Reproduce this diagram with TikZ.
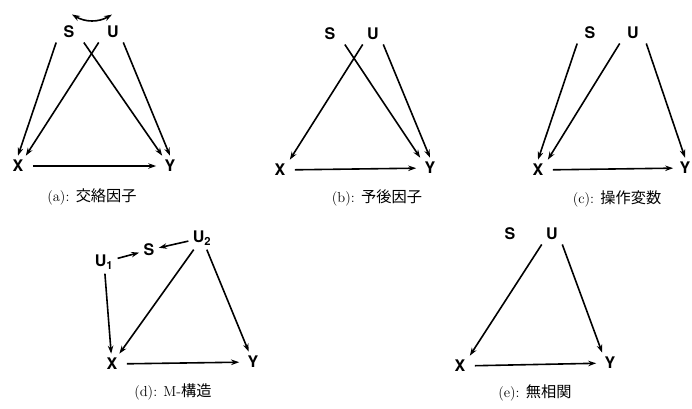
\documentclass[tikz,border=0pt]{standalone}
\usepackage{fontspec}
\setsansfont{TeX Gyre Heros}
\newfontfamily\cjk[Scale=1.05]{Noto Sans CJK JP}
\usetikzlibrary{arrows.meta}

\begin{document}
\begin{tikzpicture}[
    x=1pt, y=-1pt,
    >={Stealth[length=8pt, width=5.5pt]},
    var/.style={font=\fontsize{16}{16}\selectfont\sffamily\bfseries,
                inner sep=2pt, outer sep=2.5pt},
    arrow/.style={->, line width=1.6pt},
    caption/.style={font=\fontsize{14.5}{16}\selectfont},
]
    \useasboundingbox (0,0) rectangle (692,408);

    % (a)
    \node[var] (Sa) at (69,32) {S};
    \node[var] (Ua) at (113,32) {U};
    \node[var] (Xa) at (18,166) {X};
    \node[var] (Ya) at (170,166) {Y};
    \draw[arrow] ([xshift=-3pt]Sa.south west) -- (Xa.north);
    \draw[arrow] ([xshift=-4pt]Ua.south west) -- ([xshift=-2pt]Xa.north east);
    \draw[arrow] ([xshift=5pt]Sa.south east) -- ([xshift=2pt]Ya.north west);
    \draw[arrow] (Ua.south east) -- (Ya.north);
    \draw[arrow, shorten <=5pt, shorten >=4pt] (Xa) -- (Ya);
    \draw[arrow, <->] ([xshift=3pt, yshift=7pt]Sa.north) to[bend right=30] ([xshift=-1pt, yshift=7pt]Ua.north);
    \node[caption] (capa) at (92,197) {(a): {\cjk 交絡因子}};

    % (b)
    \node[var] (Sb) at (330,34) {S};
    \node[var] (Ub) at (373,34) {U};
    \node[var] (Xb) at (280,170) {X};
    \node[var] (Yb) at (430,168) {Y};
    \draw[arrow] ([xshift=5pt]Sb.south east) -- (Yb.north west);
    \draw[arrow] (Ub.south west) -- (Xb.north east);
    \draw[arrow] (Ub.south east) -- (Yb.north);
    \draw[arrow, shorten <=5pt, shorten >=4pt] (Xb) -- (Yb);
    \node[caption] (capb) at (377,198) {(b): {\cjk 予後因子}};

    % (c)
    \node[var] (Sc) at (590,33) {S};
    \node[var] (Uc) at (633,33) {U};
    \node[var] (Xc) at (538,170) {X};
    \node[var] (Yc) at (685,168) {Y};
    \draw[arrow] ([xshift=-3pt]Sc.south west) -- (Xc.north);
    \draw[arrow] ([xshift=-3pt]Uc.south west) -- (Xc.north east);
    \draw[arrow] ([xshift=3pt]Uc.south east) -- (Yc.north);
    \draw[arrow, shorten <=5pt, shorten >=2pt] (Xc) -- (Yc);
    \node[caption] (capc) at (617,199) {(c): {\cjk 操作変数}};

    % (d)
    \node[var] (U1d) at (104,262) {U\textsubscript{1}};
    \node[var] (Sd) at (149,250) {S};
    \node[var] (U2d) at (202,238) {U\textsubscript{2}};
    \node[var] (Xd) at (112,364) {X};
    \node[var] (Yd) at (253,362) {Y};
    \draw[arrow] (U1d) -- (Sd);
    \draw[arrow] (U2d) -- (Sd);
    \draw[arrow] (U1d) -- (Xd);
    \draw[arrow] (U2d) -- (Xd);
    \draw[arrow] (U2d) -- (Yd);
    \draw[arrow, shorten <=5pt, shorten >=4pt] (Xd) -- (Yd);
    \node[caption] (capd) at (173,392) {(d): M-{\cjk 構造}};

    % (e)
    \node[var] (Se) at (510,234) {S};
    \node[var] (Ue) at (552,234) {U};
    \node[var] (Xe) at (460,366) {X};
    \node[var] (Ye) at (610,363) {Y};
    \draw[arrow] (Ue.south west) -- (Xe.north east);
    \draw[arrow] (Ue.south east) -- ([xshift=2pt]Ye.north west);
    \draw[arrow, shorten <=5pt, shorten >=4pt] (Xe) -- (Ye);
    \node[caption] (cape) at (535,393) {(e): {\cjk 無相関}};
\end{tikzpicture}
\end{document}
